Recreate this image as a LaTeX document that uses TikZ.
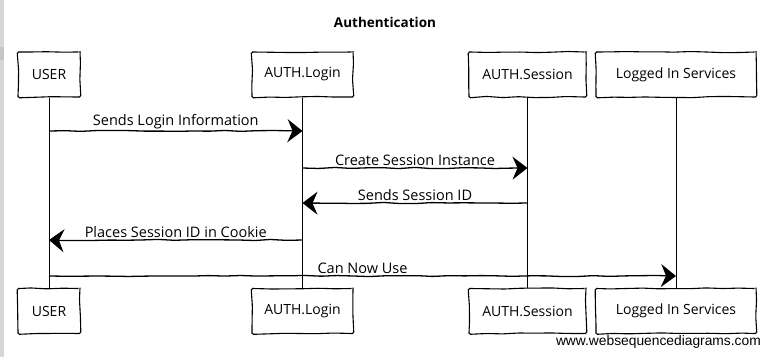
\documentclass[tikz,border=0pt]{standalone}
\usepackage{fontspec}
\setmainfont{Open Sans}
\newfontfamily\sitefont{Liberation Sans}
\usetikzlibrary{arrows.meta,decorations.pathmorphing,positioning}

\tikzset{
  sketch/.style={decorate, decoration={random steps, segment length=16pt, amplitude=0.6pt}, rounded corners=1.5pt},
  actor/.style={draw, sketch, line width=1.1pt, minimum height=45pt, inner xsep=4pt,
    font=\fontsize{14}{16}\selectfont},
  life/.style={line width=0.8pt},
  msg/.style={sketch, line width=1.3pt, -{Stealth[length=15pt, width=23pt, inset=5pt]}},
  lbl/.style={above=-1.5pt, font=\fontsize{14.5}{16}\selectfont}
}

\begin{document}
\begin{tikzpicture}[x=1pt, y=-1pt]
    \pgfmathsetseed{7}
    \useasboundingbox[fill=white] (0,0) rectangle (770,357);
    % window edge
    \fill[gray!32] (0,0) rectangle (4,357);
    \fill[gray!45] (0,47) rectangle (4,60);

    \node[font=\bfseries\fontsize{13.5}{15}\selectfont] (title) at (385,22) {Authentication};

    % participants, top and bottom
    \node[actor, minimum width=62pt]  (userT)    at (49,74.5)    {USER};
    \node[actor, minimum width=101pt] (loginT)   at (302.5,74.5) {AUTH.Login};
    \node[actor, minimum width=117pt] (sessionT) at (527.5,74.5) {AUTH.Session};
    \node[actor, minimum width=160pt] (svcT)     at (676,74.5)   {Logged In Services};
    \node[actor, minimum width=62pt]  (userB)    at (49,311)     {USER};
    \node[actor, minimum width=101pt] (loginB)   at (302.5,311)  {AUTH.Login};
    \node[actor, minimum width=117pt] (sessionB) at (527.5,311)  {AUTH.Session};
    \node[actor, minimum width=160pt] (svcB)     at (676,311)    {Logged In Services};

    \foreach \p in {user,login,session,svc}
        \draw[life] (\p T) -- (\p B);

    % message rows
    \coordinate (r1) at (0,131);
    \coordinate (r2) at (0,168);
    \coordinate (r3) at (0,203);
    \coordinate (r4) at (0,240);
    \coordinate (r5) at (0,276);

    \draw[msg] (userT |- r1) -- node[lbl] {Sends Login Information} (loginT |- r1);
    \draw[msg] (loginT |- r2) -- node[lbl] {Create Session Instance} (sessionT |- r2);
    \draw[msg] (sessionT |- r3) -- node[lbl] {Sends Session ID} (loginT |- r3);
    \draw[msg] (loginT |- r4) -- node[lbl] {Places Session ID in Cookie} (userT |- r4);
    \draw[msg] (userT |- r5) -- node[lbl] {Can Now Use} (svcT |- r5);

    \node[anchor=south east, inner sep=0pt, font=\sitefont\fontsize{13.8}{15}\selectfont] (site) at (761,349) {www.websequencediagrams.com};
\end{tikzpicture}
\end{document}
